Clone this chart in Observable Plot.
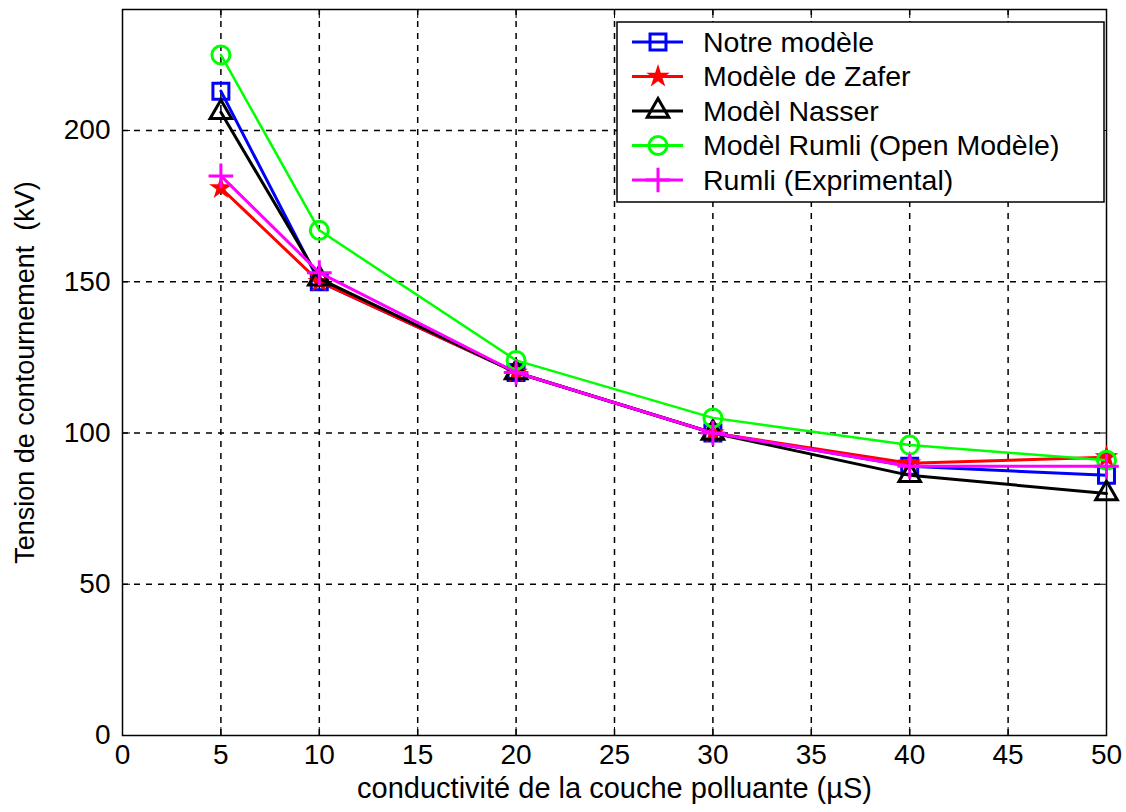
<!DOCTYPE html>
<html>
<head>
<meta charset="utf-8">
<script src="https://cdn.jsdelivr.net/npm/d3@7"></script>
<script src="https://cdn.jsdelivr.net/npm/@observablehq/plot@0.6"></script>
<style>
  html, body { margin: 0; padding: 0; background: #fff; }
  #chart { width: 1126px; height: 812px; }
  svg { font-family: "Liberation Sans", Arial, sans-serif; }
</style>
</head>
<body>
<div id="chart"></div>
<script>
// ---- data ----
const conductivity = [5, 10, 20, 30, 40, 50];
const notreModele   = [213, 150, 120, 100, 89, 86];
const zafer         = [181, 150, 120, 100, 90, 92];
const nasser        = [206, 151, 120, 100, 86, 80];
const rumliOpen     = [225, 167, 124, 105, 96, 91];
const rumliExp      = [185, 153, 120, 100, 89, 89];

const seriesNames = ["Notre modèle", "Modèle de Zafer", "Modèl Nasser", "Modèl Rumli (Open Modèle)", "Rumli (Exprimental)"];
const seriesValues = [notreModele, zafer, nasser, rumliOpen, rumliExp];
const seriesColors = ["#0000ff", "#ff0000", "#000000", "#00ff00", "#ff00ff"];
const seriesSymbols = ["square", "star", "triangle", "circle", "plus"];
const seriesFilled = [false, true, false, false, false];
const seriesRadius = [9, 4.5, 8, 9, 8];

const xTicks = [0, 5, 10, 15, 20, 25, 30, 35, 40, 45, 50];
const yTicks = [0, 50, 100, 150, 200];
const xLabel = "conductivité de la couche polluante (µS)";
const yLabel = "Tension de contournement  (kV)";

// build table
const rows = [];
seriesNames.forEach((name, i) => {
  conductivity.forEach((c, j) => rows.push({series: name, idx: i, x: c, y: seriesValues[i][j]}));
});

const marks = [
  Plot.gridX(xTicks.slice(1, -1), {stroke: "#000", strokeOpacity: 1, strokeWidth: 1.5, strokeDasharray: "6,6"}),
  Plot.gridY(yTicks.slice(1), {stroke: "#000", strokeOpacity: 1, strokeWidth: 1.5, strokeDasharray: "6,6"}),
  Plot.axisX(xTicks, {anchor: "bottom", tickSize: -8, tickPadding: 17, fontSize: 28, label: null}),
  Plot.axisX({anchor: "bottom", ticks: [], label: xLabel, labelAnchor: "center", labelOffset: 62, labelArrow: "none", fontSize: 29}),
  Plot.axisX(xTicks, {anchor: "top", tickSize: -8, tickFormat: () => "", label: null}),
  Plot.axisY(yTicks, {anchor: "left", tickSize: -8, tickPadding: 20, fontSize: 28, label: null}),
  Plot.axisY({anchor: "left", ticks: [], label: yLabel, labelAnchor: "center", labelOffset: 108, labelArrow: "none", fontSize: 27}),
  Plot.axisY(yTicks, {anchor: "right", tickSize: -8, tickFormat: () => "", label: null}),
  Plot.frame({stroke: "#000", strokeWidth: 1.5})
];

seriesNames.forEach((name, i) => {
  const d = rows.filter(r => r.idx === i);
  marks.push(Plot.line(d, {x: "x", y: "y", stroke: seriesColors[i], strokeWidth: i === 3 ? 2.5 : 3}));
  marks.push(Plot.dot(d, {
    x: "x", y: "y", symbol: () => seriesSymbols[i], r: seriesRadius[i],
    stroke: seriesColors[i], strokeWidth: 3,
    fill: seriesFilled[i] ? seriesColors[i] : "none"
  }));
});

const plot = Plot.plot({
  width: 1126,
  height: 812,
  marginLeft: 122,
  marginRight: 20,
  marginTop: 9,
  marginBottom: 77,
  style: {fontSize: "28px", fontFamily: "Liberation Sans, Arial, sans-serif", background: "#fff", color: "#000"},
  x: {domain: [0, 50]},
  y: {domain: [0, 240]},
  symbol: {type: "identity"},
  marks
});

document.getElementById("chart").appendChild(plot);

// ---- legend inside the axes (upper right) ----
const svg = d3.select(plot);
const lg = svg.append("g").attr("class", "legend").attr("text-anchor", "start");
const box = {x: 617, y: 22, w: 487, h: 180};
lg.append("rect").attr("x", box.x).attr("y", box.y).attr("width", box.w).attr("height", box.h)
  .attr("fill", "#fff").attr("stroke", "#000").attr("stroke-width", 1.5);
const symMap = {square: d3.symbolSquare, star: d3.symbolStar, triangle: d3.symbolTriangle, circle: d3.symbolCircle, plus: d3.symbolPlus};
seriesNames.forEach((name, i) => {
  const cy = box.y + 20 + i * 34.5;
  const g = lg.append("g");
  g.append("line").attr("x1", 632).attr("x2", 683).attr("y1", cy).attr("y2", cy)
    .attr("stroke", seriesColors[i]).attr("stroke-width", 3);
  const r = seriesRadius[i];
  g.append("path").attr("transform", `translate(658,${cy})`)
    .attr("d", d3.symbol(symMap[seriesSymbols[i]], Math.PI * r * r)())
    .attr("stroke", seriesColors[i]).attr("stroke-width", 3)
    .attr("fill", seriesFilled[i] ? seriesColors[i] : "none");
  g.append("text").attr("x", 703).attr("y", cy).attr("dy", "0.35em")
    .attr("font-size", 28.5).attr("fill", "#000").attr("text-anchor", "start").text(name);
});
</script>
</body>
</html>
